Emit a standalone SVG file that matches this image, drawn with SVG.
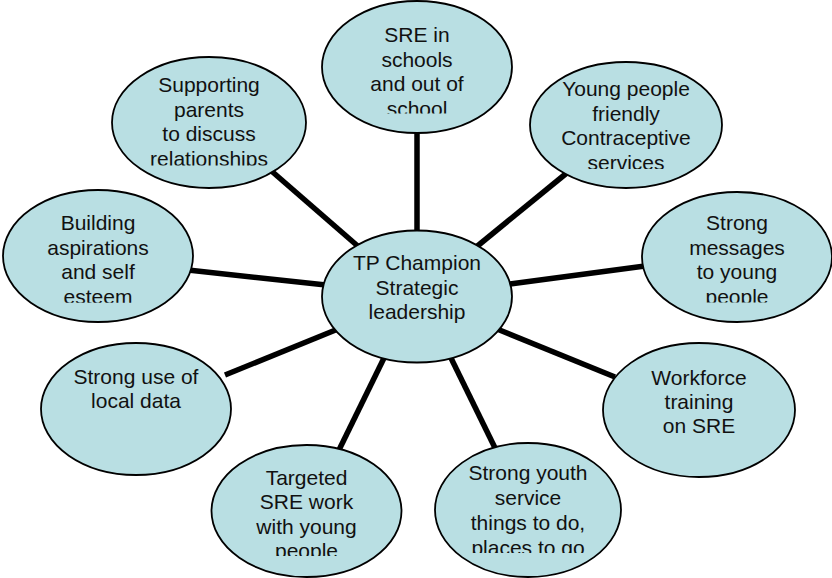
<svg xmlns="http://www.w3.org/2000/svg" width="832" height="578" viewBox="0 0 832 578">
<style>
.bg{fill:#ffffff}
.node ellipse{fill:#b9dfe3;stroke:#000;stroke-width:1.8}
.node text{font-family:"Liberation Sans",Arial,sans-serif;font-size:21px;fill:#111;text-anchor:middle}
.conn line{stroke:#000;stroke-width:5.5;stroke-linecap:butt}
</style>
<defs>
<clipPath id="c-sre"><rect x="0" y="0" width="832" height="113.5"/></clipPath>
<clipPath id="c-par"><rect x="0" y="0" width="832" height="165.5"/></clipPath>
<clipPath id="c-yp"><rect x="0" y="0" width="832" height="169"/></clipPath>
<clipPath id="c-bld"><rect x="0" y="0" width="832" height="302.7"/></clipPath>
<clipPath id="c-msg"><rect x="0" y="0" width="832" height="302.5"/></clipPath>
<clipPath id="c-tar"><rect x="0" y="0" width="832" height="556"/></clipPath>
<clipPath id="c-yth"><rect x="0" y="0" width="832" height="553"/></clipPath>
</defs>
<rect class="bg" x="0" y="0" width="832" height="578"/>
<g id="connectors" class="conn">
<line x1="417" y1="130" x2="417" y2="235"/>
<line x1="268" y1="168" x2="360" y2="248"/>
<line x1="568" y1="172" x2="475" y2="248"/>
<line x1="188" y1="270" x2="326" y2="285"/>
<line x1="510" y1="284" x2="645" y2="266"/>
<line x1="225" y1="375" x2="338" y2="329"/>
<line x1="497" y1="329" x2="615" y2="377"/>
<line x1="385" y1="356" x2="338" y2="452"/>
<line x1="450" y1="356" x2="497" y2="452"/>
</g>
<g id="n-sre" class="node">
<ellipse cx="417" cy="67" rx="95" ry="66"/>
<text clip-path="url(#c-sre)"><tspan x="417" y="42">SRE in</tspan><tspan x="417" y="66.5">schools</tspan><tspan x="417" y="91">and out of</tspan><tspan x="417" y="115.5">school</tspan></text>
</g>
<g id="n-parents" class="node">
<ellipse cx="209" cy="122.5" rx="97" ry="65.5"/>
<text clip-path="url(#c-par)"><tspan x="209" y="92">Supporting</tspan><tspan x="209" y="116.5">parents</tspan><tspan x="209" y="141">to discuss</tspan><tspan x="209" y="165.5">relationships</tspan></text>
</g>
<g id="n-young" class="node">
<ellipse cx="626" cy="125" rx="96" ry="63"/>
<text clip-path="url(#c-yp)"><tspan x="626" y="96">Young people</tspan><tspan x="626" y="120.5">friendly</tspan><tspan x="626" y="145">Contraceptive</tspan><tspan x="626" y="169.5">services</tspan></text>
</g>
<g id="n-building" class="node">
<ellipse cx="98" cy="256" rx="95" ry="66"/>
<text clip-path="url(#c-bld)"><tspan x="98" y="230">Building</tspan><tspan x="98" y="254.5">aspirations</tspan><tspan x="98" y="279">and self</tspan><tspan x="98" y="303.5">esteem</tspan></text>
</g>
<g id="n-messages" class="node">
<ellipse cx="737" cy="257" rx="95" ry="65"/>
<text clip-path="url(#c-msg)"><tspan x="737" y="230">Strong</tspan><tspan x="737" y="254.5">messages</tspan><tspan x="737" y="279">to young</tspan><tspan x="737" y="303.5">people</tspan></text>
</g>
<g id="n-center" class="node">
<ellipse cx="417" cy="296.5" rx="95" ry="66"/>
<text><tspan x="417" y="270">TP Champion</tspan><tspan x="417" y="294.5">Strategic</tspan><tspan x="417" y="319">leadership</tspan></text>
</g>
<g id="n-data" class="node">
<ellipse cx="136" cy="409" rx="95" ry="66"/>
<text><tspan x="136" y="383.5">Strong use of</tspan><tspan x="136" y="408">local data</tspan></text>
</g>
<g id="n-workforce" class="node">
<ellipse cx="699" cy="410" rx="96" ry="67"/>
<text><tspan x="699" y="385">Workforce</tspan><tspan x="699" y="409">training</tspan><tspan x="699" y="433">on SRE</tspan></text>
</g>
<g id="n-targeted" class="node">
<ellipse cx="306.5" cy="511" rx="95" ry="66"/>
<text clip-path="url(#c-tar)"><tspan x="306.5" y="485">Targeted</tspan><tspan x="306.5" y="509">SRE work</tspan><tspan x="306.5" y="533.5">with young</tspan><tspan x="306.5" y="558">people</tspan></text>
</g>
<g id="n-youth" class="node">
<ellipse cx="528" cy="510" rx="93" ry="67"/>
<text clip-path="url(#c-yth)"><tspan x="528" y="480">Strong youth</tspan><tspan x="528" y="505">service</tspan><tspan x="528" y="530">things to do,</tspan><tspan x="528" y="554.5">places to go</tspan></text>
</g>
</svg>
